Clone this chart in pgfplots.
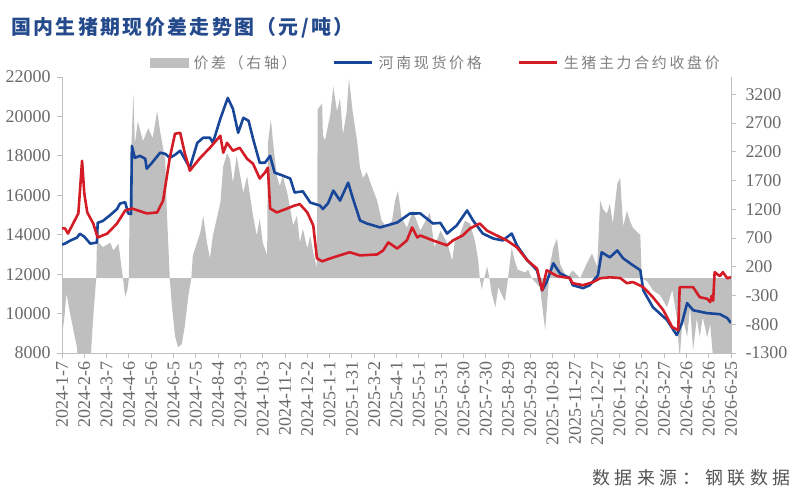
\documentclass[border=0pt]{standalone}
\usepackage{pgfplots}
\pgfplotsset{compat=1.18}
\usepackage{pgfplotstable}
\usepackage{fontspec}
\setmainfont{Liberation Serif}
\newfontfamily\cjk{Noto Sans CJK SC}
\newfontfamily\cjkls{Noto Sans CJK SC}[LetterSpace=18]
\newfontfamily\cjktitle{Noto Sans CJK SC}[LetterSpace=12]
\newfontfamily\cjksrc{Noto Sans CJK SC}[LetterSpace=26]
\definecolor{spreadgray}{RGB}{191,191,191}
\definecolor{spotblue}{RGB}{24,70,152}
\definecolor{futred}{RGB}{212,28,38}
\definecolor{titleblue}{RGB}{36,74,140}
\definecolor{labelgray}{RGB}{105,105,105}
\definecolor{legendgray}{RGB}{128,128,128}
\definecolor{axisgray}{RGB}{191,191,191}

\pgfplotstableread{
d v
0 -400
2 -850
6 -262
10 -556
20 -1196
22 -1500
38 -1500
42 -677
46 0
47 650
55 540
65 620
69 480
76 600
80 190
82 0
85 -330
88 -200
90 0
91 1468
96 3215
98 2333
102 2730
109 2385
116 2610
122 2437
128 2904
132 2558
139 2040
141 1174
144 300
145 0
148 -500
152 -1000
156 -1200
161 -1150
165 -850
170 -300
174 0
176 395
186 793
190 1087
195 620
199 344
203 741
209 1087
213 1312
217 1952
222 2177
226 2073
230 1658
235 2125
239 1831
244 1485
249 1779
253 1433
257 1087
262 741
266 1035
270 620
276 395
277 2350
281 2765
284 2350
289 1779
293 1606
297 1779
303 1485
307 1208
311 914
316 1087
320 620
324 862
330 517
334 741
338 447
343 170
344 2939
350 3042
351 2471
354 2400
361 2852
365 3336
370 2900
374 3129
378 2500
383 2900
386 3475
391 2904
397 2385
401 1918
405 1745
410 1850
414 1693
424 1347
430 1000
437 880
444 1000
448 1347
452 1520
457 1050
464 880
472 1174
482 828
495 1140
501 534
509 828
518 620
525 309
529 700
535 749
542 1000
549 950
556 620
560 309
562 0
565 -210
566 -100
572 200
575 0
578 -262
583 -504
587 -150
592 -300
596 -400
600 0
605 534
609 309
613 150
623 100
627 150
632 0
643 -158
650 -900
654 -200
656 200
661 534
666 690
670 250
679 0
687 136
697 0
706 257
713 430
720 200
724 1347
728 1200
733 1122
737 1295
741 949
747 1641
751 1745
753 1300
755 900
760 1174
764 1000
768 880
774 800
778 750
780 0
787 -50
795 -210
805 -300
814 -504
821 -200
827 -677
831 -1400
835 -677
841 -1023
845 -504
849 -1250
854 -700
858 -1023
862 -677
868 -1023
872 -800
876 -1400
881 -1500
900 -1500
}\spread

\pgfplotstableread{
d v
0 13500
4 13550
11 13700
20 13850
24 14050
30 13900
38 13550
47 13600
48 14600
55 14700
65 15000
74 15300
78 15580
85 15650
89 15080
93 15050
94 18500
98 17900
105 18000
112 17850
114 17350
120 17600
132 18160
139 18100
145 17900
152 18050
159 18260
168 17650
172 17400
182 18660
190 18920
199 18920
203 18660
213 19880
223 20940
230 20380
237 19170
244 19930
251 19780
257 18870
266 17650
273 17650
280 18000
286 17150
297 17000
307 16850
313 16140
324 16200
334 15630
347 15480
351 15300
358 15600
365 16240
374 15730
385 16640
391 15880
401 14720
410 14570
428 14370
451 14620
468 15075
482 15080
499 14570
509 14600
518 14060
531 14470
545 15230
553 14720
566 14060
580 13810
593 13710
605 14060
612 13460
626 12700
639 12200
646 11180
652 11600
661 12550
670 12040
683 11800
687 11440
701 11290
710 11440
721 11940
726 13110
737 12850
747 13200
755 12800
768 12450
778 12200
782 11180
795 10320
814 9670
827 8910
834 9520
841 10530
849 10170
868 10020
885 9970
895 9770
900 9520
}\spot

\pgfplotstableread{
d v
0 14320
4 14320
8 14060
15 14570
22 15080
27 17750
30 16090
34 15130
42 14570
48 13860
61 14060
74 14570
85 15230
94 15330
114 15080
128 15130
136 15730
145 17900
152 19120
159 19170
165 18160
172 17250
186 17900
199 18410
213 19020
217 18160
222 18660
230 18260
239 18410
249 17850
257 17600
266 16850
273 17150
277 17400
280 15330
289 15130
303 15330
313 15480
320 15550
330 15130
338 14470
343 12800
350 12650
361 12800
365 12850
387 13110
401 12950
424 13000
432 13200
439 13610
451 13300
464 13710
471 14370
478 13860
482 13960
499 13710
518 13460
526 13710
539 13960
549 14320
562 14570
572 14200
585 13960
599 13700
612 13360
626 12700
639 12280
646 11180
652 12200
666 11900
683 11800
687 11540
701 11440
714 11590
724 11790
737 11840
751 11800
760 11540
768 11600
782 11340
795 10830
809 10170
821 9310
829 9160
831 11340
841 11340
849 11340
858 10830
868 10750
872 10580
874 10900
876 10650
878 12100
885 11900
889 12100
895 11790
900 11850
}\futures

\begin{document}
\begin{tikzpicture}
\path[use as bounding box] (0bp,0bp) rectangle (800bp,493bp);
\node[anchor=west, inner sep=0pt, font=\cjktitle\bfseries\fontsize{20}{24}\selectfont, text=titleblue] at (11bp,465bp) {国内生猪期现价差走势图（元/吨）};
\node[anchor=east, inner sep=0pt, font=\cjksrc\fontsize{18}{22}\selectfont, text=labelgray!80!black] at (791bp,15bp) {数据来源：钢联数据};

\begin{axis}[
  at={(62bp,140bp)}, anchor=south west,
  width=669bp, height=276bp, scale only axis,
  xmin=0, xmax=900, ymin=-1300, ymax=3500,
  hide x axis,
  axis y line*=right,
  axis line style={draw=axisgray, line width=0.8bp},
  ytick={-1300,-800,-300,200,700,1200,1700,2200,2700,3200},
  scaled y ticks=false,
  tick align=outside, major tick length=5bp,
  tick style={draw=axisgray, line width=0.8bp},
  yticklabel style={font=\fontsize{18}{20}\selectfont, text=labelgray, xshift=6bp},
  /pgf/number format/.cd, 1000 sep={}, assume math mode=true,
]
\addplot[fill=spreadgray, draw=none] table[x=d, y=v] {\spread} \closedcycle;
\end{axis}

\begin{axis}[
  at={(62bp,140bp)}, anchor=south west,
  width=669bp, height=276bp, scale only axis,
  xmin=0, xmax=900, ymin=8000, ymax=22000,
  axis x line*=bottom, axis y line*=left,
  axis line style={draw=axisgray, line width=0.8bp},
  ytick={8000,10000,...,22000},
  scaled y ticks=false,
  xtick={0,30,...,900},
  xticklabels={2024-1-7,2024-2-6,2024-3-7,2024-4-6,2024-5-6,2024-6-5,2024-7-5,2024-8-4,2024-9-3,2024-10-3,2024-11-2,2024-12-2,2025-1-1,2025-1-31,2025-3-2,2025-4-1,2025-5-1,2025-5-31,2025-6-30,2025-7-30,2025-8-29,2025-9-28,2025-10-28,2025-11-27,2025-12-27,2026-1-26,2026-2-25,2026-3-27,2026-4-26,2026-5-26,2026-6-25},
  tick align=outside, major tick length=5bp,
  tick style={draw=axisgray, line width=0.8bp},
  yticklabel style={font=\fontsize{18}{20}\selectfont, text=labelgray, xshift=-3bp},
  xticklabel style={font=\fontsize{18}{20}\selectfont, text=labelgray, rotate=90, anchor=east},
  legend columns=3,
  legend style={at={(0.1315,1.051)}, anchor=west, draw=none, fill=none, inner sep=0pt,
    font=\cjkls\fontsize{15}{18}\selectfont, text=legendgray,
    /tikz/every odd column/.append style={column sep=3bp},
    /tikz/every even column/.append style={column sep=34bp}},
  legend cell align=left,
  /pgf/number format/.cd, 1000 sep={}, assume math mode=true,
]
\addlegendimage{legend image code/.code={\fill[spreadgray] (0bp,-4.5bp) rectangle (38bp,4.5bp);}}
\addlegendentry{价差（右轴）}
\addplot[spotblue, line width=2.6bp, line join=round,
  legend image code/.code={\draw[spotblue, line width=3bp] (0bp,0bp) -- (38bp,0bp);}] table[x=d, y=v] {\spot};
\addlegendentry{河南现货价格}
\addplot[futred, line width=2.6bp, line join=round,
  legend image code/.code={\draw[futred, line width=3bp] (0bp,0bp) -- (38bp,0bp);}] table[x=d, y=v] {\futures};
\addlegendentry{生猪主力合约收盘价}
\end{axis}
\end{tikzpicture}
\end{document}
